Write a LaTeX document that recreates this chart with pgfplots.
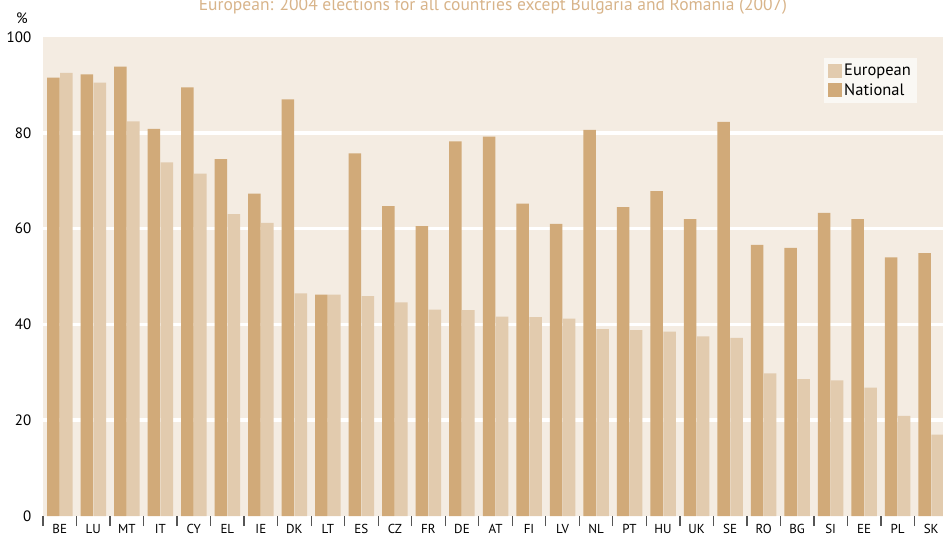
\documentclass[border=0pt]{standalone}
\usepackage{pgfplots}
\pgfplotsset{compat=1.18}
\usepackage{pgfplotstable}
\usepackage{fontspec}
\setmainfont{PT Sans}
\definecolor{bgbeige}{HTML}{F4ECE2}
\definecolor{natcol}{HTML}{D1AA79}
\definecolor{eurcol}{HTML}{E2CBAE}
\definecolor{titlecol}{HTML}{D8B48A}
\definecolor{legbg}{HTML}{FAF8F4}
\definecolor{tickgray}{HTML}{555555}

\pgfplotstableread{
x c  nat  eur
0  BE 91.5 92.5
1  LU 92.2 90.5
2  MT 93.8 82.4
3  IT 80.8 73.8
4  CY 89.5 71.5
5  EL 74.5 63.0
6  IE 67.3 61.2
7  DK 87.0 46.5
8  LT 46.2 46.2
9  ES 75.7 45.9
10 CZ 64.7 44.6
11 FR 60.5 43.1
12 DE 78.2 43.0
13 AT 79.2 41.6
14 FI 65.2 41.5
15 LV 61.0 41.2
16 NL 80.6 39.0
17 PT 64.5 38.8
18 HU 67.8 38.5
19 UK 62.0 37.5
20 SE 82.3 37.2
21 RO 56.6 29.8
22 BG 56.0 28.6
23 SI 63.3 28.3
24 EE 62.0 26.8
25 PL 54.0 20.9
26 SK 54.9 17.0
}\turnout

\begin{document}
\begin{tikzpicture}
\begin{axis}[
    at={(43pt,23pt)}, anchor=south west,
    scale only axis,
    width=905pt, height=479pt,
    xmin=-0.5, xmax=26.5,
    ymin=0, ymax=100,
    axis background/.style={fill=bgbeige},
    axis line style={draw=none},
    ytick={0,20,40,60,80,100},
    extra y ticks={20,40,60,80},
    extra y tick labels={},
    extra y tick style={grid=major, grid style={white, line width=3.5pt}},
    ytick style={draw=none},
    yticklabel style={font=\fontsize{15}{17}\selectfont, xshift=-4pt},
    xtick={0,...,26},
    xticklabels from table={\turnout}{c},
    minor xtick={-0.5,0.5,...,26.5},
    xtick pos=bottom,
    tick align=outside,
    major x tick style={draw=none},
    minor tick length=10pt,
    minor x tick style={tickgray, line width=1.3pt},
    xticklabel style={font=\fontsize{13}{15}\selectfont, yshift=-3pt, inner ysep=1pt},
    /pgf/number format/assume math mode=true,
    legend cell align=left,
    legend style={
        at={(0.863,0.956)}, anchor=north west,
        fill=legbg, draw=none,
        font=\fontsize{16.5}{18}\selectfont,
        inner xsep=4pt, inner ysep=4pt,
        row sep=2pt,
    },
    legend image code/.code={\fill[#1] (0pt,-7pt) rectangle (14pt,7pt);},
    clip=false,
]
\addplot[ybar, bar width=12.5pt, bar shift=6.5pt, fill=eurcol, draw=none]
    table[x=x, y=eur] {\turnout};
\addlegendentry{European}
\addplot[ybar, bar width=12.5pt, bar shift=-6.5pt, fill=natcol, draw=none]
    table[x=x, y=nat] {\turnout};
\addlegendentry{National}
\end{axis}
\node[anchor=base, text=titlecol, font=\fontsize{17.5}{19}\selectfont] at (493pt,528.5pt)
    {European: 2004 elections for all countries except Bulgaria and Romania (2007)};
\node[font=\fontsize{15}{17}\selectfont] at (22pt,521pt) {\%};
\pgfresetboundingbox
\path (0pt,0pt) rectangle (943pt,539pt);
\end{tikzpicture}
\end{document}
